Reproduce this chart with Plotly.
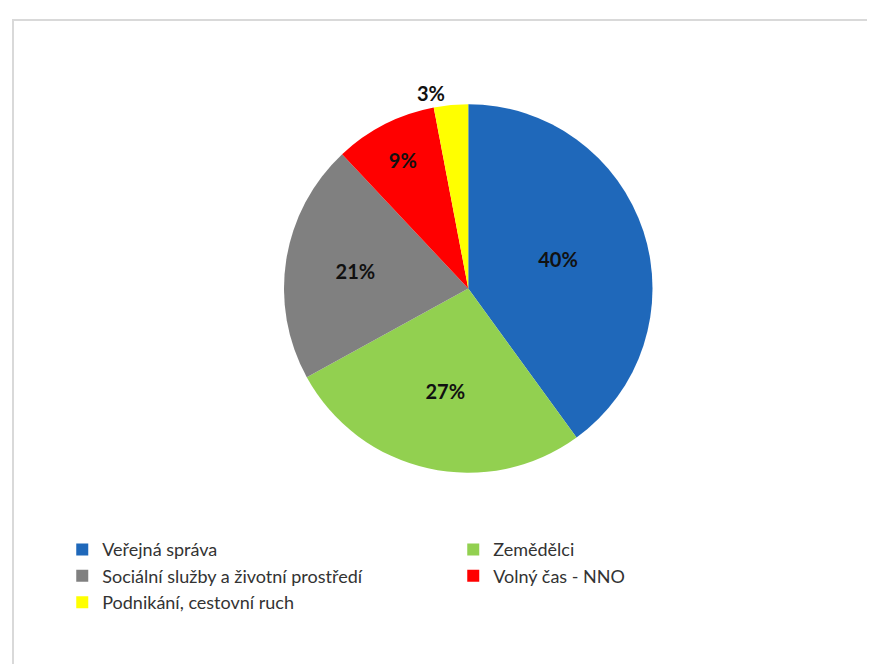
import plotly.graph_objects as go

categories = ["Veřejná správa", "Zemědělci", "Sociální služby a životní prostředí",
              "Volný čas - NNO", "Podnikání, cestovní ruch"]
values = [40, 27, 21, 9, 3]
colors = ["#1F68BA", "#92D050", "#808080", "#FF0000", "#FFFF00"]
text_pos = ["inside", "inside", "inside", "inside", "outside"]

fig = go.Figure(go.Pie(
    labels=categories,
    values=values,
    sort=False,
    direction="clockwise",
    rotation=0,
    marker=dict(colors=colors, line=dict(color="#FFFFFF", width=0)),
    texttemplate="%{percent:.0%}",
    textinfo="percent",
    textposition=text_pos,
    insidetextorientation="horizontal",
    textfont=dict(family="Lato, Open Sans, sans-serif", size=20, color="#111111", weight="bold"),
    outsidetextfont=dict(family="Lato, Open Sans, sans-serif", size=20, color="#111111", weight="bold"),
    domain=dict(x=[0.226, 0.826], y=[0.30, 0.855]),
    hoverinfo="label+percent",
))

fig.update_layout(
    width=875, height=664,
    margin=dict(l=0, r=0, t=0, b=0),
    paper_bgcolor="#FFFFFF",
    plot_bgcolor="#FFFFFF",
    showlegend=True,
    legend=dict(
        orientation="h",
        x=0.062, xanchor="left",
        y=0.212, yanchor="top",
        entrywidth=346, entrywidthmode="pixels",
        font=dict(family="Lato, Open Sans, sans-serif", size=18, color="#333333"),
        traceorder="normal",
        itemclick=False,
    ),
    shapes=[dict(type="rect", xref="paper", yref="paper",
                 x0=5 / 875, x1=1.01, y0=-0.01, y1=1 - 12 / 664,
                 line=dict(color="#D9D9D9", width=2), fillcolor="rgba(0,0,0,0)")],
)

fig.write_html("out.html")
